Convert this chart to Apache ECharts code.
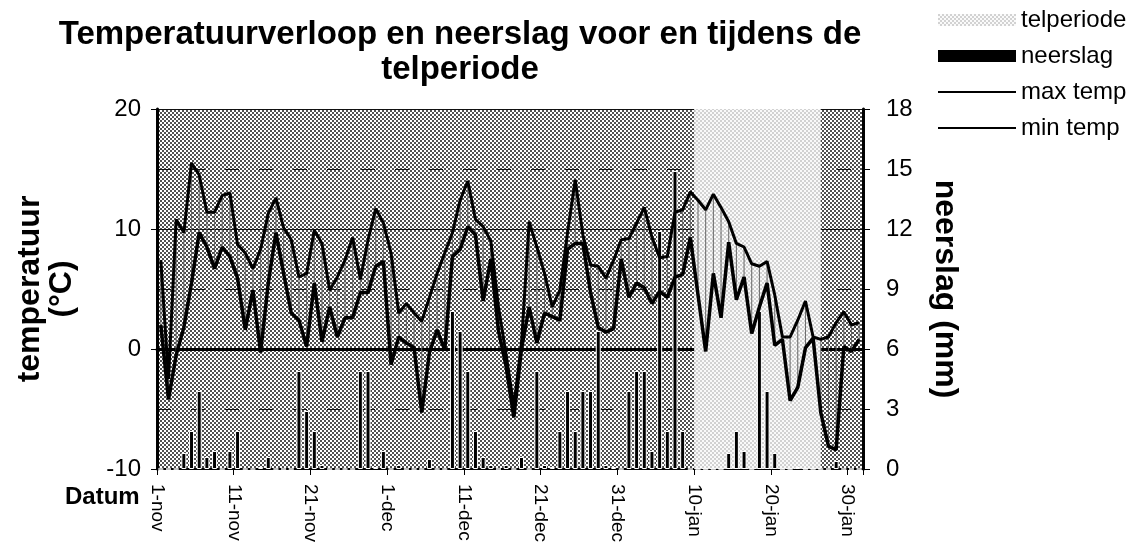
<!DOCTYPE html>
<html>
<head>
<meta charset="utf-8">
<script src="https://cdn.jsdelivr.net/npm/echarts@6/dist/echarts.min.js"></script>
<style>
  html, body { margin: 0; padding: 0; background: #fff; }
  #chart { width: 1145px; height: 551px; }
</style>
</head>
<body>
<div id="chart"></div>
<script>
var FONT = '"Liberation Sans", Arial, sans-serif';

// dagen 1-nov .. 31-jan
var maanden = [['nov', 30], ['dec', 31], ['jan', 31]];
var datums = [];
maanden.forEach(function (m) {
  for (var d = 1; d <= m[1]; d++) datums.push(d + '-' + m[0]);
});

var maxTemp = [
  7.4, -2.5, 10.8, 9.7, 15.5, 14.5, 11.4, 11.4, 12.8, 13.0,
  8.7, 8.0, 6.7, 8.3, 11.3, 12.6, 10.1, 9.1, 6.0, 6.3,
  9.9, 8.8, 4.9, 6.0, 7.4, 9.3, 5.8, 9.1, 11.7, 10.5,
  8.0, 3.0, 3.8, 3.0, 2.3, 4.3, 6.3, 8.0, 9.7, 12.4,
  14.0, 10.8, 10.2, 9.0, 3.5, -0.5, -4.8, 0.5, 10.6, 8.5,
  6.3, 3.5, 4.9, 9.7, 14.1, 9.5, 7.0, 6.9, 5.9, 7.4,
  9.1, 9.2, 10.5, 11.8, 9.3, 7.6, 7.7, 11.4, 11.6, 13.1,
  12.4, 11.6, 12.9, 11.8, 10.6, 8.8, 8.5, 7.1, 6.9, 7.3,
  4.5, 1.0, 1.0, 2.4, 4.0, 1.0, 0.8, 1.0, 2.2, 3.1,
  2.0, 2.2
];
var minTemp = [
  2.0, -4.2, -0.5, 1.8, 5.5, 9.7, 8.5, 6.7, 8.5, 7.7,
  5.9, 1.6, 4.9, -0.3, 5.5, 9.7, 6.3, 3.0, 2.4, 0.2,
  5.5, 0.6, 3.5, 1.0, 2.6, 2.6, 4.7, 4.7, 6.9, 7.3,
  -1.3, 1.0, 0.5, 0.1, -5.3, -0.3, 1.6, -0.1, 7.7, 8.3,
  10.2, 9.5, 4.0, 7.5, 1.5, -1.5, -5.7, 0.0, 3.5, 0.5,
  3.0, 2.7, 2.4, 8.3, 8.8, 8.8, 4.7, 1.8, 1.4, 1.7,
  7.5, 4.3, 5.5, 5.1, 3.8, 4.8, 4.3, 6.0, 6.2, 9.3,
  4.5, -0.2, 6.3, 2.6, 8.9, 4.1, 6.0, 1.3, 3.5, 5.5,
  0.3, 0.8, -4.3, -3.2, 0.1, 0.9, -5.3, -8.1, -8.4, 0.2,
  -0.2, 0.8
];
var neerslag = [
  0, 0, 0, 0.8, 1.9, 3.9, 0.6, 0.9, 0, 0.9,
  1.9, 0, 0, 0.1, 0.6, 0, 0, 0, 4.9, 2.9,
  1.9, 0.2, 0, 0, 0, 0, 4.9, 4.9, 0.1, 0.9,
  0, 0.2, 0, 0, 0, 0.5, 0, 0, 7.9, 6.9,
  4.9, 1.9, 0.6, 0.2, 0, 0.2, 0, 0.6, 0, 4.9,
  0.2, 0.1, 1.9, 3.9, 1.9, 3.9, 3.9, 6.9, 0.2, 0.1,
  0, 3.9, 4.9, 4.9, 0.9, 11.9, 1.9, 14.9, 1.9, 0,
  0, 0, 0, 0, 0.8, 1.9, 0.9, 0, 7.9, 3.9,
  0.8, 0, 0, 0.1, 0, 0, 0, 0, 0.4, 0,
  0, 0
];
// telperiode in dagen vanaf 1-nov (grenzen)
var telperiode = [70, 86.5];

var tempTicks = { min: -10, max: 20, interval: 10 };
var regenTicks = { min: 0, max: 18, interval: 3 };

function patroon(bg, fg) {
  var c = document.createElement('canvas');
  c.width = 4; c.height = 4;
  var g = c.getContext('2d');
  g.fillStyle = bg; g.fillRect(0, 0, 4, 4);
  g.fillStyle = fg; g.fillRect(0, 0, 2, 2); g.fillRect(2, 2, 2, 2);
  return { image: c, repeat: 'repeat' };
}
var donker = patroon('#ffffff', '#505050');
var licht = patroon('#fafafa', '#d2d2d2');

var chart = echarts.init(document.getElementById('chart'));

var option = {
  animation: false,
  backgroundColor: '#fff',
  textStyle: { fontFamily: FONT, color: '#000' },
  title: {
    text: 'Temperatuurverloop en neerslag voor en tijdens de\ntelperiode',
    left: 460,
    top: 17,
    padding: 0,
    textAlign: 'center',
    textStyle: { fontFamily: FONT, fontSize: 33, fontWeight: 'bold', lineHeight: 35, color: '#000' }
  },
  legend: {
    orient: 'vertical',
    left: 932,
    top: 3,
    itemWidth: 78,
    itemHeight: 12,
    itemGap: 12,
    selectedMode: false,
    textStyle: { fontFamily: FONT, fontSize: 24, color: '#000' },
    data: [
      { name: 'telperiode', icon: 'rect' },
      { name: 'neerslag', icon: 'rect', itemStyle: { borderWidth: 0 } },
      { name: 'max temp', itemStyle: { opacity: 0 } },
      { name: 'min temp', itemStyle: { opacity: 0 } }
    ]
  },
  grid: {
    left: 157, right: 282, top: 109, bottom: 82,
    show: true,
    backgroundColor: donker,
    borderWidth: 0
  },
  xAxis: [
    {
      type: 'category',
      data: datums,
      position: 'top',
      boundaryGap: true,
      axisLine: { lineStyle: { color: '#000', width: 3 } },
      axisTick: { show: false },
      axisLabel: { show: false },
      splitLine: { show: false }
    },
    {
      type: 'value',
      min: 0,
      max: datums.length,
      interval: 10,
      position: 'bottom',
      axisLine: { onZero: false, lineStyle: { color: '#000', width: 2 } },
      axisTick: { show: true, length: 6, lineStyle: { color: '#000' } },
      axisLabel: {
        rotate: -90,
        margin: 15,
        fontSize: 19,
        color: '#000',
        fontFamily: FONT,
        formatter: function (v) { return datums[v] || ''; }
      },
      splitLine: { show: false }
    }
  ],
  yAxis: [
    {
      type: 'value',
      min: tempTicks.min, max: tempTicks.max, interval: tempTicks.interval,
      position: 'left',
      name: 'temperatuur\n(°C)',
      nameLocation: 'middle',
      nameRotate: 90,
      nameGap: 79,
      nameTextStyle: { fontFamily: FONT, fontSize: 32, fontWeight: 'bold', lineHeight: 32, color: '#000' },
      axisLine: { show: true, lineStyle: { color: '#000', width: 3 } },
      axisTick: { show: true, length: 6, lineStyle: { color: '#000' } },
      axisLabel: { fontSize: 24, margin: 16, color: '#000', fontFamily: FONT },
      splitLine: { show: true, lineStyle: { color: '#111', width: 1 } }
    },
    {
      type: 'value',
      min: regenTicks.min, max: regenTicks.max, interval: regenTicks.interval,
      position: 'right',
      name: 'neerslag (mm)',
      nameLocation: 'middle',
      nameRotate: -90,
      nameGap: 66,
      nameTextStyle: { fontFamily: FONT, fontSize: 32, fontWeight: 'bold', color: '#000' },
      axisLine: { show: true, lineStyle: { color: '#000', width: 3 } },
      axisTick: { show: true, length: 7, lineStyle: { color: '#000' } },
      axisLabel: { fontSize: 24, margin: 23, color: '#000', fontFamily: FONT },
      splitLine: { show: true, lineStyle: { color: '#111', width: 1, type: [14, 20] } }
    }
  ],
  series: [
    {
      name: 'telperiode',
      type: 'bar',
      xAxisIndex: 1,
      yAxisIndex: 0,
      data: [],
      itemStyle: { color: licht },
      markArea: {
        silent: true,
        itemStyle: { color: licht },
        data: [[{ xAxis: telperiode[0] }, { xAxis: telperiode[1] }]]
      }
    },
    {
      name: 'hoog-laag',
      type: 'custom',
      xAxisIndex: 0,
      yAxisIndex: 0,
      z: 3,
      silent: true,
      data: maxTemp.map(function (v, i) { return [i, v, minTemp[i]]; }),
      renderItem: function (params, api) {
        var a = api.coord([api.value(0), api.value(1)]);
        var b = api.coord([api.value(0), api.value(2)]);
        return {
          type: 'line',
          shape: { x1: a[0], y1: a[1], x2: b[0], y2: b[1] },
          style: { stroke: '#666', lineWidth: 1 }
        };
      }
    },
    {
      name: 'neerslag',
      type: 'bar',
      xAxisIndex: 0,
      yAxisIndex: 1,
      z: 4,
      barWidth: 5,
      data: neerslag,
      itemStyle: { color: '#000', borderColor: '#fff', borderWidth: 1 }
    },
    {
      name: 'max temp',
      type: 'line',
      xAxisIndex: 0,
      yAxisIndex: 0,
      z: 5,
      symbol: 'none',
      data: maxTemp,
      itemStyle: { color: '#000' },
      lineStyle: { color: '#000', width: 3 }
    },
    {
      name: 'min temp',
      type: 'line',
      xAxisIndex: 0,
      yAxisIndex: 0,
      z: 5,
      symbol: 'none',
      data: minTemp,
      itemStyle: { color: '#000' },
      lineStyle: { color: '#000', width: 3.5 }
    }
  ],
  graphic: [
    {
      type: 'text',
      left: 65,
      top: 485,
      style: { text: 'Datum', fontFamily: FONT, fontSize: 24, fontWeight: 'bold', fill: '#000' }
    }
  ]
};

chart.setOption(option);
</script>
</body>
</html>
